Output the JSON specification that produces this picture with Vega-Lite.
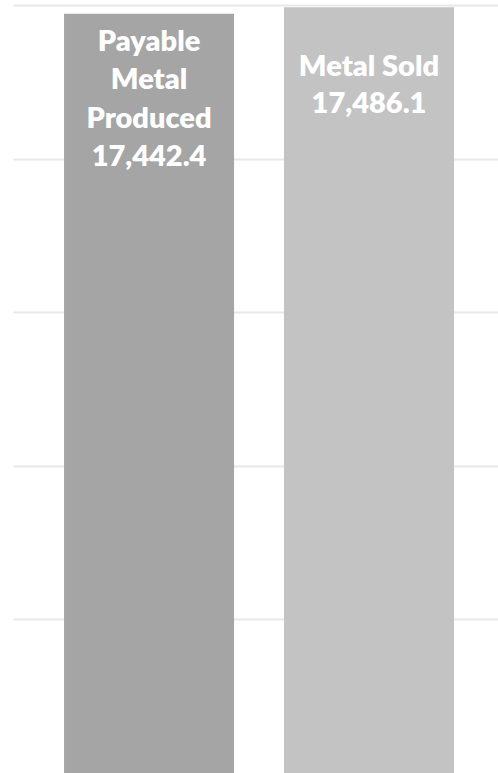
{
  "$schema": "https://vega.github.io/schema/vega-lite/v6.json",
  "width": 485,
  "height": 773,
  "autosize": {"type": "none"},
  "padding": {"left": 13, "top": 0, "right": 0, "bottom": 0},
  "background": "white",
  "config": {"view": {"stroke": null}},
  "data": {
    "values": [
      {"name": "Payable\nMetal\nProduced", "value": 17442.4, "order": 1},
      {"name": "Metal Sold", "value": 17486.1, "order": 2}
    ]
  },
  "transform": [
    {"calculate": "datum.name + '\\n' + format(datum.value, ',.1f')", "as": "label"}
  ],
  "encoding": {
    "x": {
      "field": "name",
      "type": "nominal",
      "sort": {"field": "order"},
      "scale": {"paddingInner": 0.227, "paddingOuter": 0.216, "align": 0.537},
      "axis": null
    }
  },
  "layer": [
    {
      "mark": {"type": "bar", "clip": true},
      "encoding": {
        "y": {
          "field": "value",
          "type": "quantitative",
          "scale": {"domain": [12500, 17532.5], "zero": false, "nice": false},
          "axis": {
            "values": [13500, 14500, 15500, 16500, 17500],
            "labels": false,
            "ticks": false,
            "domain": false,
            "title": null,
            "grid": true,
            "gridColor": "#e8e8e8",
            "gridWidth": 2
          }
        },
        "y2": {"datum": 12000},
        "color": {
          "field": "name",
          "type": "nominal",
          "sort": {"field": "order"},
          "scale": {"range": ["#a5a5a5", "#c3c3c3"]},
          "legend": null
        }
      }
    },
    {
      "transform": [{"filter": "datum.order == 1"}],
      "mark": {
        "type": "text",
        "font": "Lato",
        "fontWeight": 800,
        "fontSize": 29,
        "color": "white",
        "lineBreak": "\n",
        "lineHeight": 38.5,
        "baseline": "alphabetic",
        "align": "center",
        "dy": 37
      },
      "encoding": {
        "y": {"field": "value", "type": "quantitative"},
        "text": {"field": "label"}
      }
    },
    {
      "transform": [{"filter": "datum.order == 2"}],
      "mark": {
        "type": "text",
        "font": "Lato",
        "fontWeight": 800,
        "fontSize": 29,
        "color": "white",
        "lineBreak": "\n",
        "lineHeight": 37,
        "baseline": "alphabetic",
        "align": "center",
        "dy": 69
      },
      "encoding": {
        "y": {"field": "value", "type": "quantitative"},
        "text": {"field": "label"}
      }
    }
  ]
}
